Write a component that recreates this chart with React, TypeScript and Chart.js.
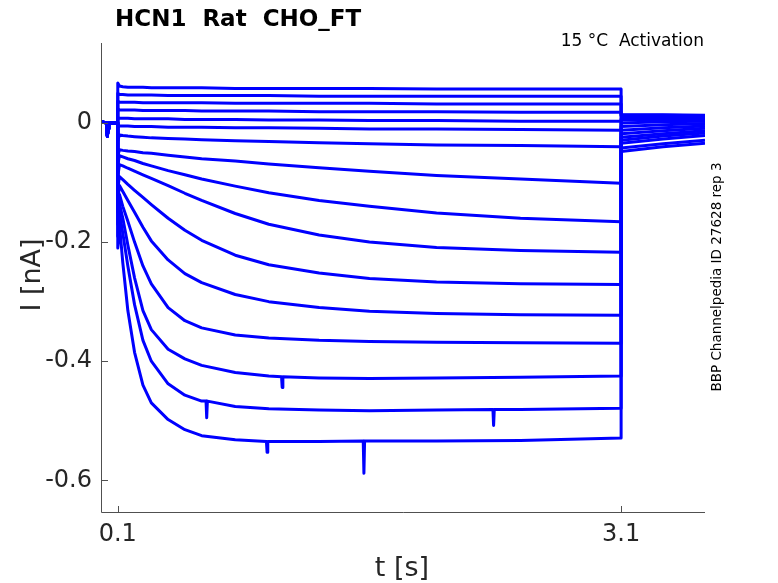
import { useEffect, useRef } from 'react'
import { Chart, registerables } from 'chart.js'

Chart.register(...registerables)

// time bases (s)
const preTimes = [0, 0.034, 0.038, 0.042, 0.046, 0.0999]
const preCurrent = [0.002, 0, -0.022, -0.01, 0, 0]
const stepTimes = [0.1, 0.11, 0.13, 0.16, 0.2, 0.25, 0.3, 0.4, 0.5, 0.6, 0.8, 1.0, 1.3, 1.6, 2.0, 2.5, 3.0999]
const tailTimes = [3.1, 3.35, 3.6]

// current during the activation step (nA), one array per sweep
const sweep1 = [0.067, 0.062, 0.061, 0.06, 0.06, 0.06, 0.059, 0.059, 0.059, 0.059, 0.058, 0.058, 0.058, 0.058, 0.057, 0.057, 0.057]
const sweep2 = [0.05, 0.048, 0.048, 0.047, 0.047, 0.047, 0.047, 0.046, 0.046, 0.046, 0.046, 0.046, 0.045, 0.045, 0.045, 0.045, 0.045]
const sweep3 = [0.037, 0.035, 0.035, 0.035, 0.035, 0.034, 0.034, 0.034, 0.034, 0.034, 0.033, 0.033, 0.033, 0.033, 0.032, 0.032, 0.032]
const sweep4 = [0.024, 0.022, 0.022, 0.022, 0.022, 0.021, 0.021, 0.021, 0.021, 0.02, 0.02, 0.02, 0.019, 0.019, 0.019, 0.018, 0.018]
const sweep5 = [0.009, 0.008, 0.008, 0.008, 0.007, 0.007, 0.007, 0.007, 0.006, 0.006, 0.006, 0.005, 0.005, 0.004, 0.004, 0.003, 0.003]
const sweep6 = [-0.007, -0.005, -0.005, -0.005, -0.006, -0.006, -0.006, -0.007, -0.007, -0.007, -0.008, -0.008, -0.009, -0.01, -0.01, -0.011, -0.012]
const sweep7 = [-0.03, -0.02, -0.021, -0.022, -0.023, -0.024, -0.025, -0.026, -0.027, -0.028, -0.03, -0.031, -0.033, -0.035, -0.037, -0.038, -0.04]
const sweep8 = [-0.055, -0.045, -0.046, -0.047, -0.048, -0.05, -0.051, -0.054, -0.057, -0.06, -0.064, -0.069, -0.075, -0.081, -0.088, -0.094, -0.101]
const sweep9 = [-0.07, -0.055, -0.057, -0.06, -0.063, -0.068, -0.072, -0.08, -0.087, -0.094, -0.106, -0.117, -0.13, -0.14, -0.151, -0.16, -0.166]
const sweep10 = [-0.09, -0.07, -0.072, -0.076, -0.081, -0.087, -0.093, -0.105, -0.118, -0.13, -0.152, -0.17, -0.188, -0.2, -0.209, -0.214, -0.217]
const sweep11 = [-0.11, -0.09, -0.095, -0.103, -0.113, -0.125, -0.137, -0.16, -0.18, -0.197, -0.222, -0.238, -0.252, -0.261, -0.267, -0.27, -0.271]
const sweep12 = [-0.13, -0.105, -0.115, -0.13, -0.15, -0.175, -0.198, -0.23, -0.253, -0.268, -0.288, -0.3, -0.31, -0.316, -0.32, -0.322, -0.323]
const sweep13 = [-0.15, -0.12, -0.14, -0.165, -0.2, -0.24, -0.27, -0.31, -0.332, -0.344, -0.356, -0.361, -0.365, -0.367, -0.368, -0.369, -0.37]
const sweep14 = [-0.17, -0.135, -0.16, -0.205, -0.26, -0.315, -0.347, -0.38, -0.396, -0.407, -0.419, -0.425, -0.428, -0.429, -0.428, -0.427, -0.425]
const sweep15 = [-0.19, -0.15, -0.185, -0.24, -0.305, -0.365, -0.4, -0.438, -0.457, -0.467, -0.476, -0.48, -0.482, -0.483, -0.482, -0.481, -0.479]
const sweep16 = [-0.21, -0.17, -0.235, -0.315, -0.385, -0.44, -0.47, -0.498, -0.515, -0.525, -0.532, -0.535, -0.535, -0.534, -0.534, -0.533, -0.529]
const sweeps = [sweep1, sweep2, sweep3, sweep4, sweep5, sweep6, sweep7, sweep8, sweep9, sweep10, sweep11, sweep12, sweep13, sweep14, sweep15, sweep16]

// tail current after the step (nA)
const tails = [
  [0.014, 0.014, 0.013], [0.013, 0.013, 0.012], [0.012, 0.012, 0.011], [0.011, 0.011, 0.01],
  [0.01, 0.01, 0.009], [0.008, 0.008, 0.008], [0.005, 0.006, 0.006], [0.0, 0.002, 0.003],
  [-0.006, -0.003, -0.001], [-0.012, -0.008, -0.005], [-0.018, -0.013, -0.009], [-0.024, -0.018, -0.013],
  [-0.029, -0.022, -0.017], [-0.034, -0.027, -0.021], [-0.042, -0.035, -0.029], [-0.048, -0.04, -0.034]
]

// single-sample glitches: [sweep index, t, level, peak]
const glitches = [
  [15, 0.99, -0.535, -0.553],
  [15, 1.567, -0.534, -0.588],
  [14, 0.63, -0.467, -0.495],
  [14, 2.34, -0.481, -0.508],
  [13, 1.08, -0.426, -0.444]
]

const xTicks = [0.1, 3.1]
const yTicks = [-0.6, -0.4, -0.2, 0]

const FONT = 'DejaVu Sans'
const TEXT = '#262626'

const decorations = {
  id: 'decorations',
  afterDraw(chart: any) {
    const { ctx, chartArea: a, scales } = chart
    ctx.save()
    ctx.strokeStyle = '#505050'
    ctx.lineWidth = 1
    ctx.beginPath()
    ctx.moveTo(a.left + 0.5, a.top)
    ctx.lineTo(a.left + 0.5, a.bottom + 0.5)
    ctx.lineTo(a.right, a.bottom + 0.5)
    yTicks.forEach((v) => {
      const y = Math.round(scales.y.getPixelForValue(v)) + 0.5
      ctx.moveTo(a.left, y)
      ctx.lineTo(a.left + 7, y)
    })
    xTicks.forEach((v) => {
      const x = Math.round(scales.x.getPixelForValue(v)) + 0.5
      ctx.moveTo(x, a.bottom)
      ctx.lineTo(x, a.bottom - 6)
    })
    ctx.stroke()

    ctx.fillStyle = '#000'
    ctx.font = `bold 23px "${FONT}"`
    ctx.textAlign = 'left'
    ctx.textBaseline = 'alphabetic'
    ctx.fillText('HCN1  Rat  CHO_FT', 115, 26)

    ctx.font = `17px "${FONT}"`
    ctx.textAlign = 'right'
    ctx.fillText('15 °C  Activation', 704, 46)

    ctx.fillStyle = TEXT
    ctx.font = `27px "${FONT}"`
    ctx.textAlign = 'center'
    ctx.fillText('t [s]', 402, 576)

    ctx.save()
    ctx.translate(40, 275)
    ctx.rotate(-Math.PI / 2)
    ctx.fillText('I [nA]', 0, 0)
    ctx.restore()

    ctx.save()
    ctx.fillStyle = '#000'
    ctx.font = `13.5px "${FONT}"`
    ctx.translate(721, 277)
    ctx.rotate(-Math.PI / 2)
    ctx.fillText('BBP Channelpedia ID 27628 rep 3', 0, 0)
    ctx.restore()

    ctx.restore()
  }
}

function buildSweep(i: number) {
  const pts: { x: number; y: number }[] = []
  preTimes.forEach((t, k) => pts.push({ x: t, y: preCurrent[k] }))
  stepTimes.forEach((t, k) => pts.push({ x: t, y: sweeps[i][k] }))
  glitches
    .filter((g) => g[0] === i)
    .forEach((g) => {
      pts.push({ x: g[1] - 0.004, y: g[2] }, { x: g[1], y: g[3] }, { x: g[1] + 0.004, y: g[2] })
    })
  tailTimes.forEach((t, k) => pts.push({ x: t, y: tails[i][k] }))
  return pts.sort((p, q) => p.x - q.x)
}

export default function App() {
  const canvasRef = useRef<HTMLCanvasElement>(null)
  const chartRef = useRef<Chart | null>(null)

  useEffect(() => {
    if (!canvasRef.current) return
    Chart.defaults.font.family = FONT

    chartRef.current = new Chart(canvasRef.current, {
      type: 'line',
      data: {
        datasets: sweeps.map((_, i) => ({
          data: buildSweep(i),
          borderColor: '#0000ff',
          borderWidth: 3,
          borderJoinStyle: 'round',
          pointRadius: 0,
          tension: 0,
          fill: false
        }))
      },
      options: {
        animation: false,
        responsive: true,
        maintainAspectRatio: false,
        layout: { padding: { top: 43, right: 73, left: 0, bottom: 0 } },
        plugins: {
          legend: { display: false },
          tooltip: { enabled: false },
          title: { display: false }
        },
        scales: {
          x: {
            type: 'linear',
            min: 0,
            max: 3.6,
            grid: { display: false, drawTicks: false },
            border: { display: false },
            afterBuildTicks: (s: any) => {
              s.ticks = xTicks.map((value) => ({ value }))
            },
            afterFit: (s: any) => {
              s.height = 71
            },
            ticks: {
              color: TEXT,
              font: { size: 24 },
              padding: 8,
              maxRotation: 0,
              callback: (v: any) => String(v)
            }
          },
          y: {
            type: 'linear',
            min: -0.6532,
            max: 0.1343,
            grid: { display: false, drawTicks: false },
            border: { display: false },
            afterBuildTicks: (s: any) => {
              s.ticks = yTicks.map((value) => ({ value }))
            },
            afterFit: (s: any) => {
              s.width = 101
            },
            ticks: {
              color: TEXT,
              font: { size: 24 },
              padding: 9,
              callback: (v: any) => String(v)
            }
          }
        }
      },
      plugins: [decorations]
    })

    return () => {
      if (chartRef.current) chartRef.current.destroy()
    }
  }, [])

  return (
    <div style={{ position: 'absolute', left: 0, top: 0, width: 778, height: 583, background: '#fff' }}>
      <canvas ref={canvasRef}></canvas>
    </div>
  )
}
